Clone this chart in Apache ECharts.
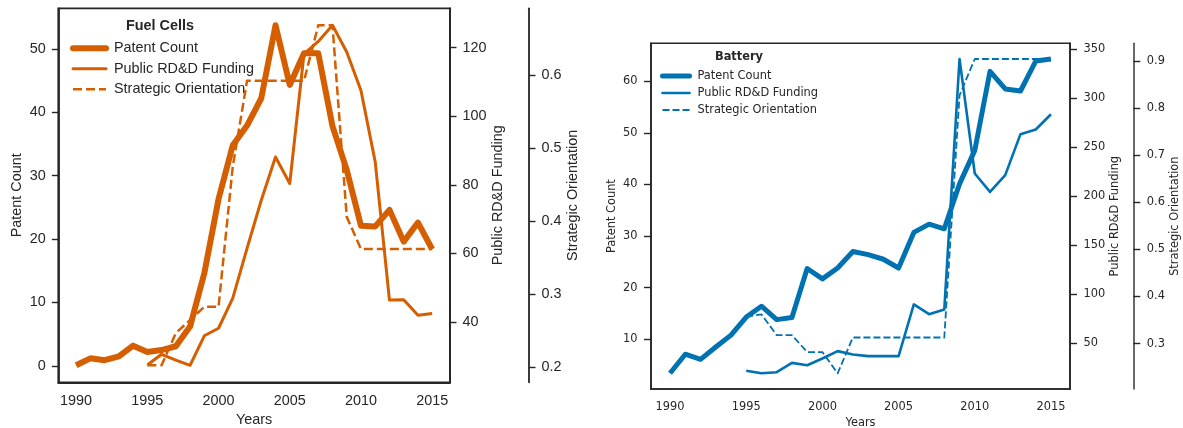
<!DOCTYPE html>
<html><head><meta charset="utf-8">
<script src="https://cdn.jsdelivr.net/npm/echarts@6/dist/echarts.min.js"></script>
<style>html,body{margin:0;padding:0;background:#fff}#c{width:1183px;height:428px}</style>
</head><body><div id="c"></div>
<script>
// ---------------- DATA ----------------
const years = [1990,1991,1992,1993,1994,1995,1996,1997,1998,1999,2000,2001,2002,2003,2004,2005,2006,2007,2008,2009,2010,2011,2012,2013,2014,2015];
const fundingYears = [1995,1996,1997,1998,1999,2000,2001,2002,2003,2004,2005,2006,2007,2008,2009,2010,2011,2012,2013,2014,2015];
const xTicks = [1990,1995,2000,2005,2010,2015];

const fcPatents = [0.1,1.2,0.9,1.5,3.2,2.2,2.5,3.1,6.2,14.6,26.3,34.8,37.9,42.2,53.7,44.3,49.3,49.3,37.8,30.9,22.1,22.0,24.6,19.6,22.6,18.4];
const fcFunding = [27.5,30.6,28.9,27.4,36.0,38.2,47.0,61.5,75.5,88.1,80.4,118.2,121.8,126.5,118.7,107.5,86.7,46.4,46.5,42.0,42.5];
const fcStrategic = [0.203,0.203,0.247,0.265,0.283,0.283,0.475,0.592,0.592,0.592,0.592,0.592,0.668,0.668,0.406,0.362,0.362,0.362,0.362,0.362,0.362];

const btPatents = [3.4,7.1,6.1,8.5,10.8,14.3,16.4,13.8,14.2,23.7,21.7,23.8,27.0,26.4,25.5,23.8,30.7,32.3,31.4,40.1,46.6,61.9,58.5,58.1,63.9,64.3];
const btFunding = [22.1,19.6,20.7,30.2,27.8,34.7,42.2,38.8,37.1,37.1,37.1,89.8,79.9,84.7,340.0,223.3,204.5,221.6,263.4,268.1,283.7];
const btStrategic = [0.357,0.362,0.318,0.318,0.282,0.282,0.237,0.313,0.313,0.313,0.313,0.313,0.313,0.313,0.827,0.904,0.904,0.904,0.904,0.904,0.904];

const fcPatentTicks = [0,10,20,30,40,50];
const fcFundingTicks = [40,60,80,100,120];
const fcStrategicTicks = [0.2,0.3,0.4,0.5,0.6];
const btPatentTicks = [10,20,30,40,50,60];
const btFundingTicks = [50,100,150,200,250,300,350];
const btStrategicTicks = [0.3,0.4,0.5,0.6,0.7,0.8,0.9];

const seriesLabels = ['Patent Count','Public RD&D Funding','Strategic Orientation'];
const panelTitles = ['Fuel Cells','Battery'];
const axisNames = {x:'Years', patent:'Patent Count', funding:'Public RD&D Funding', strategic:'Strategic Orientation'};
// --------------------------------------

const INK = '#262626';
function padRange(arr){
  const mn = Math.min(...arr), mx = Math.max(...arr);
  const p = (mx - mn) * 0.05;
  return {min: mn - p, max: mx + p};
}
function pairs(xs, ys){ return xs.map((x,i)=>[x, ys[i]]); }

const xRange = padRange(years);

const panels = [
  {
    key:'fc', color:'#d55e00', font:'Liberation Sans', fs:14.4,
    grid:{left:58.3, top:8.3, width:391.7, height:374},
    spine:1.8, thirdOffset:79, thirdColor:INK,
    patents:fcPatents, funding:fcFunding, strategic:fcStrategic,
    pTicks:fcPatentTicks, fTicks:fcFundingTicks, sTicks:fcStrategicTicks,
    widths:[6,3,2.5], dash:[9,4],
    xMargin:11.5, xNameGap:28.5, yMargin:12.5, pGap:34, fGap:41, sGap:37, tickLen:6.5,
    legend:{left:70, top:41.3, itemWidth:33, itemHeight:14, itemGap:6.5},
    title:{x:160, y:19}
  },
  {
    key:'bt', color:'#0072b2', font:'DejaVu Sans', fs:11.4,
    grid:{left:651, top:43.3, width:419, height:345.7},
    spine:1.6, thirdOffset:63.3, thirdColor:'#444',
    patents:btPatents, funding:btFunding, strategic:btStrategic,
    pTicks:btPatentTicks, fTicks:btFundingTicks, sTicks:btStrategicTicks,
    widths:[5,2.6,1.8], dash:[7,3],
    xMargin:13, xNameGap:28, yMargin:13.5, pGap:33, fGap:39, sGap:36, tickLen:7,
    legend:{left:660, top:70.5, itemWidth:27, itemHeight:11, itemGap:6},
    title:{x:739, y:51.5}
  }
];

const option = {animation:false, backgroundColor:'#fff', grid:[], xAxis:[], yAxis:[], series:[], legend:[], title:[]};

panels.forEach((P, pi) => {
  option.grid.push({left:P.grid.left, top:P.grid.top, width:P.grid.width, height:P.grid.height,
    show:true, borderColor:INK, borderWidth:P.spine, backgroundColor:'transparent', outerBoundsMode:'none', containLabel:false});
  const txt = {color:INK, fontFamily:P.font, fontSize:P.fs};
  option.xAxis.push({gridIndex:pi, type:'value', min:xRange.min, max:xRange.max,
    axisLine:{show:true, onZero:false, lineStyle:{color:INK, width:P.spine}}, axisTick:{show:false},
    splitLine:{show:false},
    axisLabel:Object.assign({customValues:xTicks, margin:P.xMargin, formatter:v=>String(v)}, txt),
    name:axisNames.x, nameLocation:'middle', nameGap:P.xNameGap, nameTextStyle:txt});
  const pr = padRange(P.patents), fr = padRange(P.funding), sr = padRange(P.strategic);
  const yBase = (ticks, fmt) => ({
    axisLine:{show:true, onZero:false, lineStyle:{color:INK, width:P.spine}},
    axisTick:{show:true, customValues:ticks, length:P.tickLen, lineStyle:{color:INK, width:1.4}},
    splitLine:{show:false},
    axisLabel:Object.assign({customValues:ticks, margin:P.yMargin, formatter:fmt}, txt),
    nameLocation:'middle', nameTextStyle:txt
  });
  const yi = option.yAxis.length;
  option.yAxis.push(Object.assign(yBase(P.pTicks, v=>String(v)), {gridIndex:pi, type:'value', position:'left', min:pr.min, max:pr.max, name:axisNames.patent, nameGap:P.pGap}));
  option.yAxis.push(Object.assign(yBase(P.fTicks, v=>String(v)), {gridIndex:pi, type:'value', position:'right', min:fr.min, max:fr.max, name:axisNames.funding, nameGap:P.fGap}));
  const s = yBase(P.sTicks, v=>v.toFixed(1));
  s.axisLine.lineStyle.color = P.thirdColor;
  option.yAxis.push(Object.assign(s, {gridIndex:pi, type:'value', position:'right', offset:P.thirdOffset, min:sr.min, max:sr.max, name:axisNames.strategic, nameGap:P.sGap}));

  const names = seriesLabels.map(l => P.key + '|' + l);
  option.series.push({name:names[0], type:'line', xAxisIndex:pi, yAxisIndex:yi, data:pairs(years, P.patents), symbol:'none', z:2,
    lineStyle:{color:P.color, width:P.widths[0], join:'round', cap:'butt'}, itemStyle:{color:P.color}});
  option.series.push({name:names[1], type:'line', xAxisIndex:pi, yAxisIndex:yi+1, data:pairs(fundingYears, P.funding), symbol:'none', z:3,
    lineStyle:{color:P.color, width:P.widths[1], join:'round', cap:'butt'}, itemStyle:{color:P.color}});
  option.series.push({name:names[2], type:'line', xAxisIndex:pi, yAxisIndex:yi+2, data:pairs(fundingYears, P.strategic), symbol:'none', z:4,
    lineStyle:{color:P.color, width:P.widths[2], type:P.dash, join:'round', cap:'butt'}, itemStyle:{color:P.color}});

  const hid = {opacity:0, color:'transparent', borderWidth:0};
  option.legend.push({orient:'vertical', left:P.legend.left, top:P.legend.top, padding:0,
    itemWidth:P.legend.itemWidth, itemHeight:P.legend.itemHeight, itemGap:P.legend.itemGap,
    selectedMode:false,
    data:[
      {name:names[0], itemStyle:hid, lineStyle:{width:P.widths[0], color:P.color, type:'solid', cap:'round'}},
      {name:names[1], itemStyle:hid, lineStyle:{width:P.widths[1], color:P.color, type:'solid', cap:'round'}},
      {name:names[2], itemStyle:hid, lineStyle:{width:P.widths[2], color:P.color, type:P.dash}}
    ],
    formatter: n => n.split('|')[1],
    textStyle:Object.assign({padding:[0,0,0,3]}, txt)});
  option.title.push({text:panelTitles[pi], left:P.title.x, top:P.title.y, textAlign:'center', padding:0,
    textStyle:{color:INK, fontFamily:P.font, fontSize:P.fs, fontWeight:'bold'}});
});

const chart = echarts.init(document.getElementById('c'), null, {renderer:'canvas'});
chart.setOption(option);
</script>
</body></html>
